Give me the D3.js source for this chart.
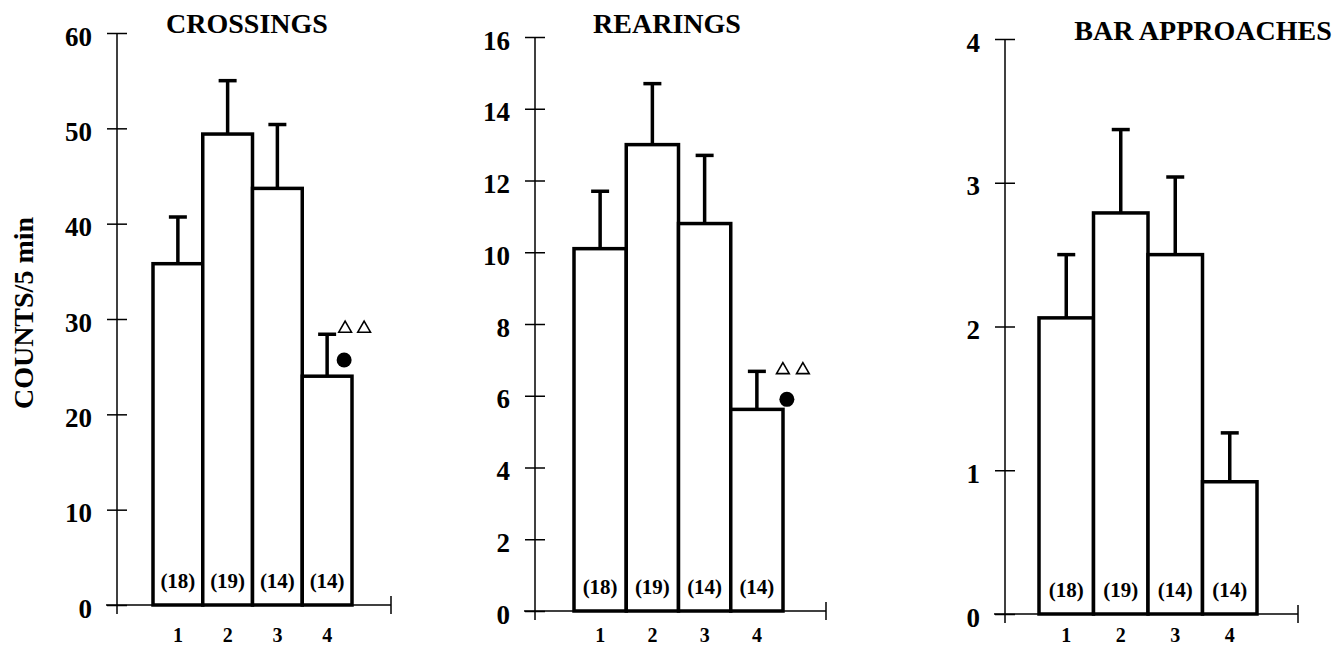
<!DOCTYPE html>
<html>
<head>
<meta charset="utf-8">
<script src="https://cdn.jsdelivr.net/npm/d3@7"></script>
<style>
  body { margin: 0; background: #fff; }
  svg { display: block; }
  text { font-family: 'Liberation Serif', 'Times New Roman', serif; font-weight: bold; fill: #000; }
</style>
</head>
<body>
<svg id="chart" width="1337" height="646"></svg>
<script>
// groups + animals per group
const groups = ['1', '2', '3', '4'];
const nLabels = ['(18)', '(19)', '(14)', '(14)'];

// crossings
const crossMean = [35.8, 49.4, 43.7, 24.0];
const crossSem = [4.9, 5.6, 6.7, 4.4];
const crossTicks = [0, 10, 20, 30, 40, 50, 60];

// rearings
const rearMean = [10.1, 13.0, 10.8, 5.62];
const rearSem = [1.6, 1.7, 1.9, 1.06];
const rearTicks = [0, 2, 4, 6, 8, 10, 12, 14, 16];

// bar approaches
const appMean = [2.06, 2.79, 2.5, 0.92];
const appSem = [0.44, 0.58, 0.54, 0.34];
const appTicks = [0, 1, 2, 3, 4];

// significance marks over group 4 (triangle row, dot)
const crossSig = {tri: 29.0, dot: 25.7};
const rearSig = {tri: 6.72, dot: 5.9};

const svg = d3.select('#chart');

// layout of each panel, pixels
const panels = [
  {title: 'CROSSINGS', mean: crossMean, sem: crossSem, ticks: crossTicks, sig: crossSig,
   axisX: 117, top: 33, base: 605, bars: [153, 352], xEnd: 391, titleX: 247, titleY: 33,
   dotDx: 17, triDx: [1, 20]},
  {title: 'REARINGS', mean: rearMean, sem: rearSem, ticks: rearTicks, sig: rearSig,
   axisX: 535, top: 37, base: 611, bars: [574, 783], xEnd: 826, titleX: 667, titleY: 33,
   dotDx: 30, triDx: [-4, 16]},
  {title: 'BAR APPROACHES', mean: appMean, sem: appSem, ticks: appTicks, sig: null,
   axisX: 1005, top: 39, base: 614, bars: [1039, 1257], xEnd: 1298, titleX: 1203, titleY: 40}
];

panels.forEach(p => {
  const g = svg.append('g');
  const y = d3.scaleLinear()
    .domain([0, d3.max(p.ticks)])
    .range([p.base, p.top]);
  const x = d3.scaleBand()
    .domain(groups)
    .range(p.bars)
    .padding(0);

  // y axis, ticks on both sides
  const ya = g.append('g')
    .attr('transform', `translate(${p.axisX},0)`)
    .attr('font-family', null)
    .call(d3.axisLeft(y).tickValues(p.ticks).tickSize(10).tickPadding(15).tickFormat(d3.format('d')));
  ya.attr('font-family', null);
  ya.select('.domain').remove();
  ya.selectAll('.tick line').attr('x1', 10).attr('stroke', '#000').attr('stroke-width', 1.5);
  ya.selectAll('.tick text')
    .style('font-size', '27px')
    .attr('dy', '0.45em');
  g.append('line')
    .attr('x1', p.axisX).attr('x2', p.axisX)
    .attr('y1', p.top).attr('y2', p.base + 9)
    .attr('stroke', '#000').attr('stroke-width', 1.5);

  // x axis line with end tick
  g.append('line')
    .attr('x1', p.axisX - 11).attr('x2', p.xEnd)
    .attr('y1', p.base).attr('y2', p.base)
    .attr('stroke', '#000').attr('stroke-width', 1.5);
  g.append('line')
    .attr('x1', p.xEnd).attr('x2', p.xEnd)
    .attr('y1', p.base - 9).attr('y2', p.base + 9)
    .attr('stroke', '#000').attr('stroke-width', 1.5);

  // group numbers, kept inside the picture
  const xa = g.append('g')
    .attr('transform', 'translate(0,642)')
    .call(d3.axisBottom(x).tickSize(0).tickPadding(0));
  xa.attr('font-family', null);
  xa.select('.domain').remove();
  xa.selectAll('.tick text').attr('dy', 0).style('font-size', '20px');

  const data = groups.map((k, i) => ({k, m: p.mean[i], s: p.sem[i], n: nLabels[i]}));

  // error bars first so bar outline sits on top
  g.selectAll('.err').data(data).enter().append('line')
    .attr('x1', d => x(d.k) + x.bandwidth() / 2)
    .attr('x2', d => x(d.k) + x.bandwidth() / 2)
    .attr('y1', d => y(d.m))
    .attr('y2', d => y(d.m + d.s))
    .attr('stroke', '#000').attr('stroke-width', 3.5);
  g.selectAll('.cap').data(data).enter().append('line')
    .attr('x1', d => x(d.k) + x.bandwidth() / 2 - 9)
    .attr('x2', d => x(d.k) + x.bandwidth() / 2 + 9)
    .attr('y1', d => y(d.m + d.s))
    .attr('y2', d => y(d.m + d.s))
    .attr('stroke', '#000').attr('stroke-width', 3.5);

  g.selectAll('.bar').data(data).enter().append('rect')
    .attr('x', d => x(d.k))
    .attr('y', d => y(d.m))
    .attr('width', x.bandwidth())
    .attr('height', d => y(0) - y(d.m))
    .attr('fill', '#fff')
    .attr('stroke', '#000').attr('stroke-width', 3.5);

  g.selectAll('.nlab').data(data).enter().append('text')
    .attr('x', d => x(d.k) + x.bandwidth() / 2)
    .attr('y', p.base - 17)
    .attr('text-anchor', 'middle')
    .style('font-size', '21px')
    .text(d => d.n);

  g.append('text')
    .attr('x', p.titleX).attr('y', p.titleY)
    .attr('text-anchor', 'middle')
    .style('font-size', '28px')
    .text(p.title);

  if (p.sig) {
    const cx = x('4') + x.bandwidth() / 2 + p.dotDx;
    const tri = d3.symbol().type(d3.symbolTriangle).size(70);
    p.triDx.forEach(dx => {
      g.append('path')
        .attr('d', tri())
        .attr('transform', `translate(${cx + dx},${y(p.sig.tri)})`)
        .attr('fill', '#fff').attr('stroke', '#000').attr('stroke-width', 1.6);
    });
    g.append('circle')
      .attr('cx', cx).attr('cy', y(p.sig.dot))
      .attr('r', 7.5).attr('fill', '#000');
  }
});

svg.append('text')
  .attr('transform', 'translate(33,313) rotate(-90)')
  .attr('text-anchor', 'middle')
  .style('font-size', '28px')
  .text('COUNTS/5 min');
</script>
</body>
</html>
